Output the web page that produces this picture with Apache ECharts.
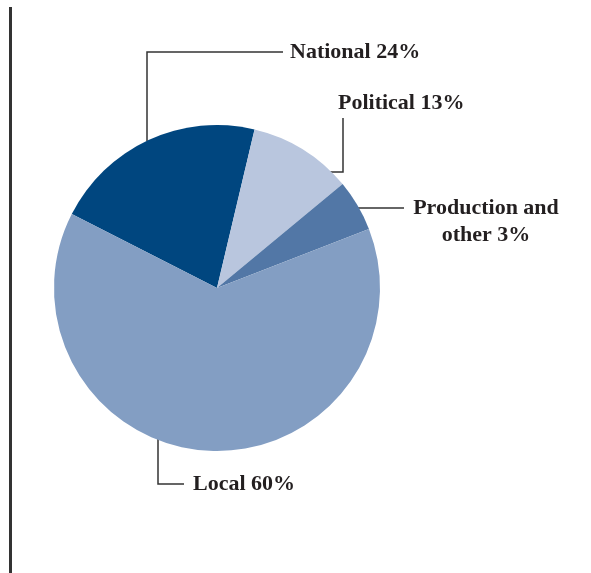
<!DOCTYPE html>
<html><head><meta charset="utf-8">
<script src="https://cdn.jsdelivr.net/npm/echarts@6/dist/echarts.min.js"></script>
<style>html,body{margin:0;padding:0;background:#fff}#c{width:591px;height:573px}</style>
</head><body><div id="c"></div>
<script>
// Data (slice shares as drawn; label texts as printed)
var categories = ['National', 'Political', 'Production and other', 'Local'];
var values = [21.2, 10.3, 5.1, 63.4];
var labelTexts = ['National 24%', 'Political 13%', 'Production and\nother 3%', 'Local 60%'];
var colors = ['#00467f', '#b9c6de', '#5277a6', '#839ec3'];

// label placement (annotation layout)
var labelPos = [
  {x: 290, y: 52, align: 'left', line: [[147, 141], [147, 52], [283, 52]]},
  {x: 338, y: 103, align: 'left', line: [[329, 172], [343, 172], [343, 118]]},
  {x: 486, y: 222, align: 'center', line: [[358, 208], [404, 208]]},
  {x: 193, y: 484, align: 'left', line: [[158, 437], [158, 484], [184, 484]]}
];

var chart = echarts.init(document.getElementById('c'), null, {renderer: 'canvas'});
chart.setOption({
  animation: false,
  graphic: [{
    type: 'line', shape: {x1: 10.5, y1: 7, x2: 10.5, y2: 573},
    style: {stroke: '#333', lineWidth: 3}
  }],
  series: [{
    type: 'pie',
    center: [217, 288],
    radius: 163,
    startAngle: 153,
    clockwise: true,
    silent: true,
    data: categories.map(function (c, i) {
      return {name: c, value: values[i], itemStyle: {color: colors[i]}};
    }),
    label: {
      show: true,
      formatter: function (p) { return labelTexts[p.dataIndex]; },
      fontFamily: 'Liberation Serif',
      fontWeight: 'bold',
      fontSize: 22,
      lineHeight: 27,
      color: '#231f20',
      align: 'left',
      overflow: 'none',
      width: 300
    },
    labelLine: {show: true, lineStyle: {color: '#333', width: 1.5}, smooth: false},
    labelLayout: function (p) {
      var o = labelPos[p.dataIndex];
      return {x: o.x, y: o.y, align: o.align, verticalAlign: 'middle', width: 300, labelLinePoints: o.line};
    }
  }]
});
</script></body></html>
